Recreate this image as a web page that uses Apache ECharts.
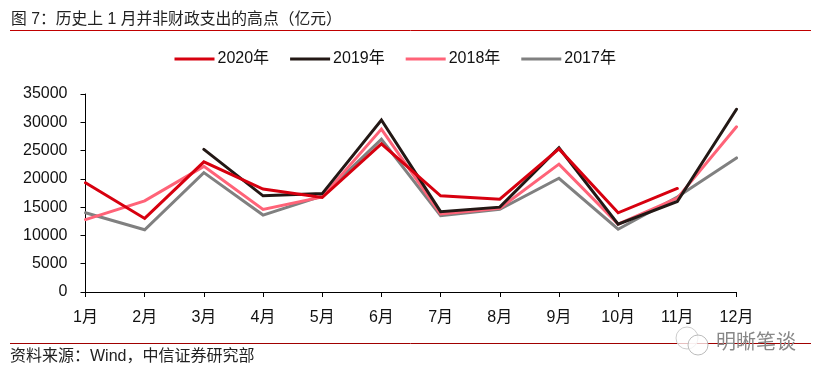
<!DOCTYPE html>
<html>
<head>
<meta charset="utf-8">
<title>图 7</title>
<script src="https://cdn.jsdelivr.net/npm/echarts@6/dist/echarts.min.js"></script>
<style>
html, body { margin: 0; padding: 0; background: #fff; }
#chart { width: 821px; height: 378px; }
</style>
</head>
<body>
<div id="chart"></div>
<script>
var months = ['1月','2月','3月','4月','5月','6月','7月','8月','9月','10月','11月','12月'];
var y2020 = [19300,13000,23000,18200,16700,26200,17000,16400,25300,14000,18300,null];
var y2019 = [null,null,25200,17000,17400,30400,14200,15000,25500,12000,16000,32300];
var y2018 = [12800,16100,22200,14600,16800,28800,13800,14800,22600,12000,16600,29200];
var y2017 = [14000,11000,21100,13600,17000,27000,13500,14600,20100,11100,16800,23700];

var fontName = '"Liberation Sans","Noto Sans CJK SC",sans-serif';
var myChart = echarts.init(document.getElementById('chart'), null, {renderer: 'canvas'});

function makeSeries(name, data, color) {
    return {
        name: name,
        type: 'line',
        data: data,
        symbol: 'none',
        smooth: false,
        lineStyle: {color: color, width: 3, cap: 'round', join: 'miter'},
        itemStyle: {color: color}
    };
}

myChart.setOption({
    animation: false,
    textStyle: {fontFamily: fontName},
    grid: {left: 85.5, right: 84.5, top: 94, bottom: 86},
    legend: {
        top: 46,
        left: 169.5,
        itemWidth: 40,
        itemHeight: 3,
        itemGap: 21,
        icon: 'rect',
        textStyle: {fontSize: 16, color: '#111', padding: [0, 0, 0, -2], fontFamily: fontName},
        data: ['2020年','2019年','2018年','2017年']
    },
    xAxis: {
        type: 'category',
        boundaryGap: false,
        data: months,
        axisLine: {lineStyle: {color: '#000', width: 1}},
        axisTick: {show: true, length: 5, alignWithLabel: true, lineStyle: {color: '#000'}},
        axisLabel: {color: '#111', fontSize: 16, margin: 18, interval: 0, fontFamily: fontName},
        splitLine: {show: false}
    },
    yAxis: {
        type: 'value',
        min: 0,
        max: 35000,
        interval: 5000,
        axisLine: {show: true, lineStyle: {color: '#000', width: 1}},
        axisTick: {show: true, length: 5, lineStyle: {color: '#000'}},
        axisLabel: {
            color: '#111',
            fontSize: 16,
            margin: 18,
            fontFamily: fontName,
            formatter: function (v) { return String(v); }
        },
        splitLine: {show: false}
    },
    series: [
        makeSeries('2017年', y2017, '#808080'),
        makeSeries('2018年', y2018, '#ff6378'),
        makeSeries('2019年', y2019, '#231815'),
        makeSeries('2020年', y2020, '#d7000f')
    ],
    graphic: [
        {type: 'text', left: 11, top: 12, style: {text: '图 7：历史上 1 月并非财政支出的高点（亿元）', font: '15.8px ' + fontName, fill: '#222'}},
        {type: 'line', shape: {x1: 10, y1: 30.5, x2: 811, y2: 30.5}, style: {stroke: '#c00000', lineWidth: 1}},
        {type: 'line', shape: {x1: 10, y1: 343.5, x2: 811, y2: 343.5}, style: {stroke: '#a00000', lineWidth: 1}},
        {type: 'text', left: 10, top: 349, style: {text: '资料来源：Wind，中信证券研究部', font: '16px ' + fontName, fill: '#222'}},
        // 水印
        {type: 'circle', shape: {cx: 687, cy: 338, r: 11}, style: {fill: 'rgba(255,255,255,0.75)', stroke: '#ccc', lineWidth: 1}},
        {type: 'circle', shape: {cx: 698, cy: 345, r: 10}, style: {fill: 'rgba(255,255,255,0.75)', stroke: '#bbb', lineWidth: 1}},
        {type: 'text', left: 716, top: 331, style: {text: '明晰笔谈', font: '20px "Noto Sans CJK SC"', fill: '#888'}}
    ]
});
</script>
</body>
</html>
